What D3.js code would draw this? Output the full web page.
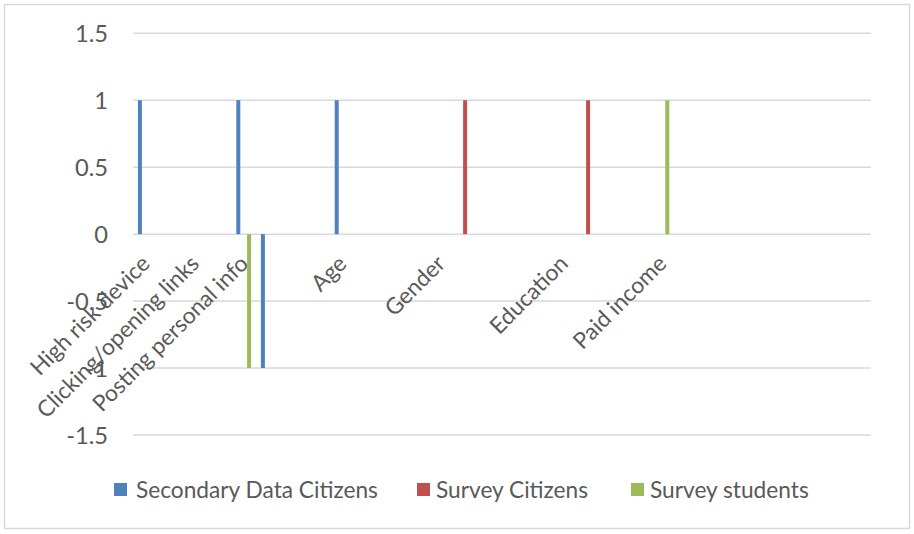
<!DOCTYPE html>
<html>
<head>
<meta charset="utf-8">
<script src="https://cdn.jsdelivr.net/npm/d3@7"></script>
<style>
  html, body { margin: 0; padding: 0; background: #fff; }
  svg { display: block; }
  text { font-family: Lato, "Open Sans", sans-serif; fill: #595959; }
</style>
</head>
<body>
<svg id="chart" width="914" height="534"></svg>
<script>
// ---- data ----
const categories = [
  "High risk device", "", "Clicking/opening links", "", "Posting personal info", "", "", "",
  "Age", "", "", "", "Gender", "", "", "", "", "Education", "", "", "", "Paid income",
  "", "", "", "", "", "", "", ""
];
const seriesNames = ["Secondary Data Citizens", "Survey Citizens", "Survey students"];
const secondaryDataCitizens = [1, null, null, null, 1, -1, null, null, 1, null, null, null, null, null, null, null, null, null, null, null, null, null, null, null, null, null, null, null, null, null];
const surveyCitizens = [null, null, null, null, null, null, null, null, null, null, null, null, null, 1, null, null, null, null, 1, null, null, null, null, null, null, null, null, null, null, null];
const surveyStudents = [null, null, null, null, -1, null, null, null, null, null, null, null, null, null, null, null, null, null, null, null, null, 1, null, null, null, null, null, null, null, null];
const yTicks = [-1.5, -1, -0.5, 0, 0.5, 1, 1.5];
const yTickLabels = ["-1.5", "-1", "-0.5", "0", "0.5", "1", "1.5"];
const colors = ["#4F81BD", "#C0504D", "#9BBB59"];

const seriesValues = [secondaryDataCitizens, surveyCitizens, surveyStudents];

const svg = d3.select("#chart");
const plot = { left: 133, right: 871, top: 33.3, bottom: 435 };

// outer border
svg.append("rect").attr("x", 4.5).attr("y", 4.5).attr("width", 905).attr("height", 524)
  .attr("fill", "#fff").attr("stroke", "#d9d9d9").attr("stroke-width", 1.5);

// font size fitted to legend width of reference
const probe = svg.append("text").style("font-size", "22px").text(seriesNames[0]);
const fs = 22 * 242 / probe.node().getComputedTextLength();
probe.remove();

const x = d3.scaleBand().domain(d3.range(categories.length)).range([plot.left, plot.right]).padding(0);
const sub = d3.scalePoint().domain(seriesNames).range([-5.4, 5.4]);
const y = d3.scaleLinear().domain([-1.5, 1.5]).range([plot.bottom, plot.top]);

// gridlines
svg.append("g").selectAll("line").data(yTicks).join("line")
  .attr("x1", plot.left).attr("x2", plot.right)
  .attr("y1", d => y(d)).attr("y2", d => y(d))
  .attr("stroke", "#d9d9d9").attr("stroke-width", 1.5);

// y tick labels
svg.append("g").selectAll("text").data(yTicks).join("text")
  .attr("x", 108).attr("y", d => y(d)).attr("dy", "0.36em")
  .attr("text-anchor", "end").style("font-size", (fs + 1) + "px")
  .text((d, i) => yTickLabels[i]);

// bars
const barW = 4;
seriesValues.forEach((vals, si) => {
  const data = vals.map((v, i) => ({ i, v })).filter(d => d.v !== null);
  svg.append("g").selectAll("rect").data(data).join("rect")
    .attr("x", d => x(d.i) + x.bandwidth() / 2 + sub(seriesNames[si]) - barW / 2)
    .attr("width", barW)
    .attr("y", d => Math.min(y(d.v), y(0)))
    .attr("height", d => Math.abs(y(d.v) - y(0)))
    .attr("fill", colors[si]);
});

// category labels (rotated)
svg.append("g").selectAll("text").data(categories.map((c, i) => ({ c, i })).filter(d => d.c !== ""))
  .join("text")
  .attr("transform", d => `translate(${x(d.i) + x.bandwidth() / 2 + 6},${y(0) + 31}) rotate(-45)`)
  .attr("text-anchor", "end").style("font-size", fs + "px")
  .text(d => d.c);

// legend
const legendItems = [
  { name: seriesNames[0], sx: 114, tx: 136 },
  { name: seriesNames[1], sx: 417, tx: 436 },
  { name: seriesNames[2], sx: 631, tx: 650 }
];
const lg = svg.append("g");
legendItems.forEach((d, i) => {
  lg.append("rect").attr("x", d.sx).attr("y", 483).attr("width", 13).attr("height", 13).attr("fill", colors[i]);
  lg.append("text").attr("x", d.tx).attr("y", 489.5).attr("dy", "0.36em").style("font-size", fs + "px").text(d.name);
});
</script>
</body>
</html>
